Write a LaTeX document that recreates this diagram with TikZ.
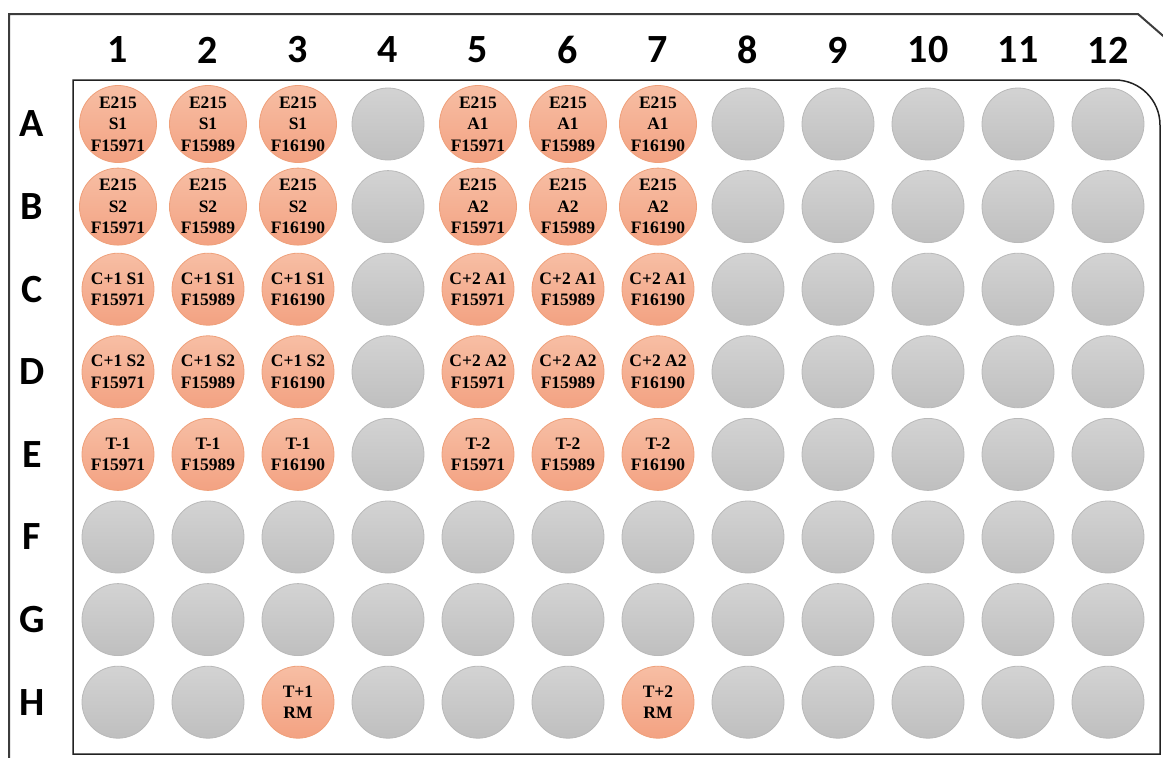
\documentclass[tikz,border=0pt]{standalone}
\usepackage{fontspec}
\setmainfont{Liberation Serif}
\newfontfamily\platefont{Carlito}
\definecolor{rim}{HTML}{3C3C3C}
\definecolor{frame}{HTML}{222222}
\definecolor{greytop}{HTML}{D3D3D3}
\definecolor{greybot}{HTML}{BFBFBF}
\definecolor{greyedge}{HTML}{B9B9B9}
\definecolor{salmontop}{HTML}{F7BEA4}
\definecolor{salmonbot}{HTML}{F3A282}
\definecolor{salmonedge}{HTML}{EFA07A}

\begin{document}
\begin{tikzpicture}[x=1pt, y=-1pt,
  emptywell/.style={circle, minimum size=72pt, inner sep=0, line width=0.8pt,
    draw=greyedge, top color=greytop, bottom color=greybot},
  usedwell/.style={circle, minimum size=72pt, inner sep=0, line width=0.8pt,
    draw=salmonedge, top color=salmontop, bottom color=salmonbot,
    align=center, font=\bfseries\fontsize{17.5}{21.5}\selectfont},
  headlabel/.style={font=\platefont\bfseries\fontsize{40}{40}\selectfont}]

\useasboundingbox (0,0) rectangle (1163,758);

\def\cx{28}
\def\cs{90}
\def\ry{124}
\def\rs{82.6}

% plate outline with cut corner
\draw[rim, line width=2pt] (9,770) -- (9,14) -- (1138,14) -- (1200,68);
% well area
\draw[frame, line width=1.5pt] (73,754) -- (73,80) -- (1115,80)
  arc (-90:0:45) -- (1160,754) -- cycle;

% column and row headings
\foreach \c in {1,...,12}{
  \node[headlabel] (col\c) at (\cx+\c*\cs,50) {\c};
}
\foreach \rw [count=\r from 0] in {A,...,H}{
  \node[headlabel] (row\rw) at (32,\ry+\r*\rs) {\rw};
}

% empty wells
\foreach \rw [count=\r from 0] in {A,...,E}{
  \foreach \c in {4,8,9,10,11,12}{
    \node[emptywell] (\rw\c) at (\cx+\c*\cs,\ry+\r*\rs) {};
  }
}
\foreach \rw [count=\r from 5] in {F,G}{
  \foreach \c in {1,...,12}{
    \node[emptywell] (\rw\c) at (\cx+\c*\cs,\ry+\r*\rs) {};
  }
}
\foreach \c in {1,2,4,5,6,8,9,10,11,12}{
  \node[emptywell] (H\c) at (\cx+\c*\cs,\ry+7*\rs) {};
}

% filled wells: row index / row / column / contents
\foreach \r/\rw/\c/\txt in {%
  0/A/1/{E215\\S1\\F15971}, 0/A/2/{E215\\S1\\F15989}, 0/A/3/{E215\\S1\\F16190},
  0/A/5/{E215\\A1\\F15971}, 0/A/6/{E215\\A1\\F15989}, 0/A/7/{E215\\A1\\F16190},
  1/B/1/{E215\\S2\\F15971}, 1/B/2/{E215\\S2\\F15989}, 1/B/3/{E215\\S2\\F16190},
  1/B/5/{E215\\A2\\F15971}, 1/B/6/{E215\\A2\\F15989}, 1/B/7/{E215\\A2\\F16190},
  2/C/1/{C+1 S1\\F15971}, 2/C/2/{C+1 S1\\F15989}, 2/C/3/{C+1 S1\\F16190},
  2/C/5/{C+2 A1\\F15971}, 2/C/6/{C+2 A1\\F15989}, 2/C/7/{C+2 A1\\F16190},
  3/D/1/{C+1 S2\\F15971}, 3/D/2/{C+1 S2\\F15989}, 3/D/3/{C+1 S2\\F16190},
  3/D/5/{C+2 A2\\F15971}, 3/D/6/{C+2 A2\\F15989}, 3/D/7/{C+2 A2\\F16190},
  4/E/1/{T-1\\F15971}, 4/E/2/{T-1\\F15989}, 4/E/3/{T-1\\F16190},
  4/E/5/{T-2\\F15971}, 4/E/6/{T-2\\F15989}, 4/E/7/{T-2\\F16190},
  7/H/3/{T+1\\RM}, 7/H/7/{T+2\\RM}%
}{
  \node[usedwell] (\rw\c) at (\cx+\c*\cs,\ry+\r*\rs) {\txt};
}

\end{tikzpicture}
\end{document}
